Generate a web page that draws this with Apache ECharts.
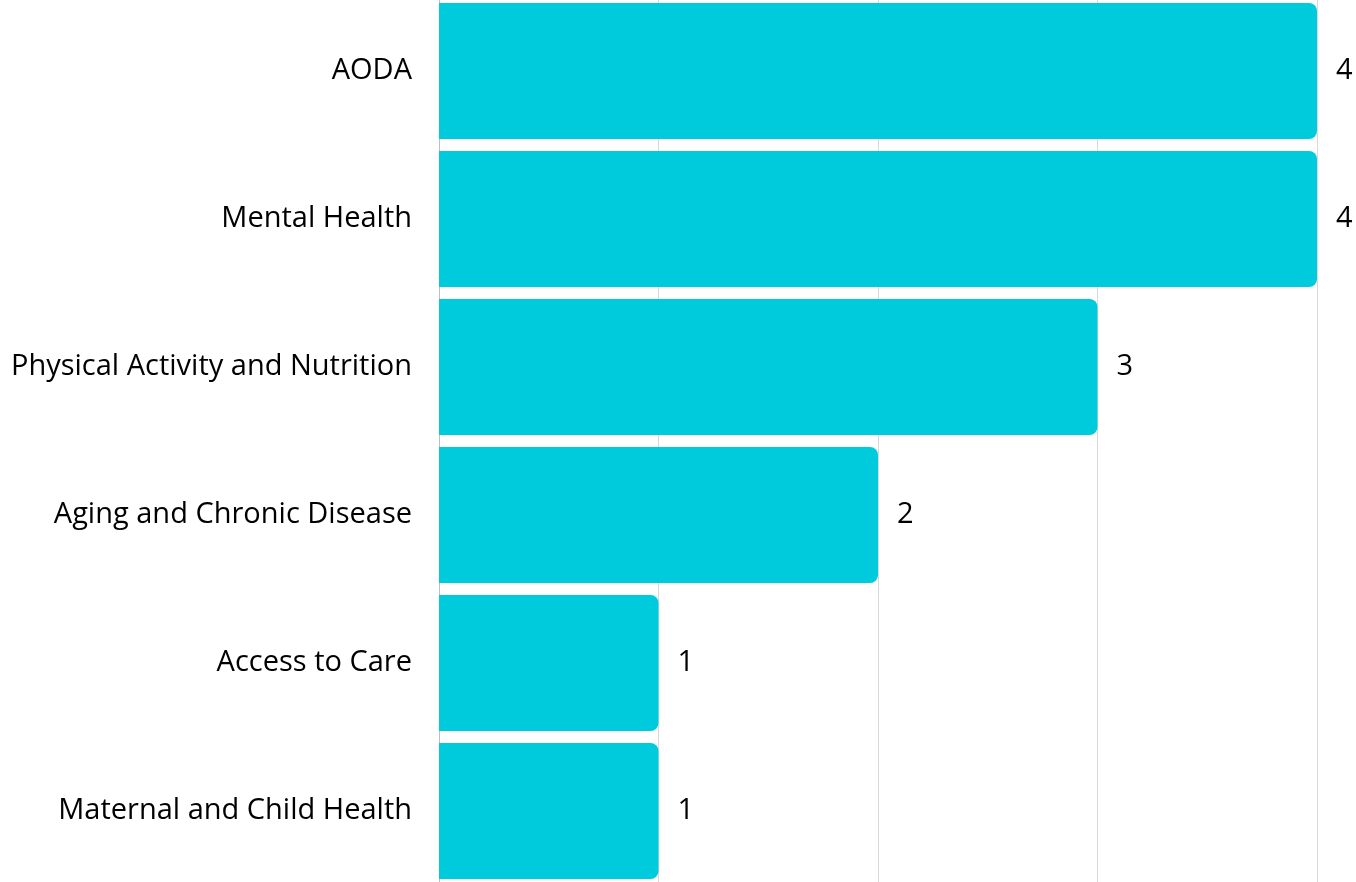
<!DOCTYPE html>
<html>
<head>
<meta charset="utf-8">
<script src="https://cdn.jsdelivr.net/npm/echarts@6/dist/echarts.min.js"></script>
<style>
html,body{margin:0;padding:0;background:#fff;overflow:hidden;}
#chart{width:1356px;height:888px;margin-top:-3px;}
</style>
</head>
<body>
<div id="chart"></div>
<script>
const categories = ["AODA", "Mental Health", "Physical Activity and Nutrition", "Aging and Chronic Disease", "Access to Care", "Maternal and Child Health"];
const values = [4, 4, 3, 2, 1, 1];
const xTicks = [0, 1, 2, 3, 4];

const chart = echarts.init(document.getElementById('chart'));
chart.setOption({
  animation: false,
  grid: { left: 439, right: 39, top: 0, bottom: 0, containLabel: false },
  xAxis: {
    type: 'value', min: 0, max: 4, interval: 1,
    axisLabel: { show: false },
    axisLine: { show: false },
    axisTick: { show: false },
    splitLine: { show: true, lineStyle: { color: '#d9d9d9', width: 1 } }
  },
  yAxis: {
    type: 'category', inverse: true, data: categories,
    axisLine: { show: true, lineStyle: { color: '#bfbfbf', width: 1 } },
    axisTick: { show: false },
    axisLabel: { margin: 27, fontSize: 29, color: '#000', fontFamily: 'Open Sans' }
  },
  series: [{
    type: 'bar', data: values, barWidth: 136,
    itemStyle: { color: '#00CBDD', borderRadius: [0, 8, 8, 0] },
    label: { show: true, position: 'right', distance: 19, fontSize: 29, color: '#000', fontFamily: 'Open Sans' }
  }]
});
</script>
</body>
</html>
